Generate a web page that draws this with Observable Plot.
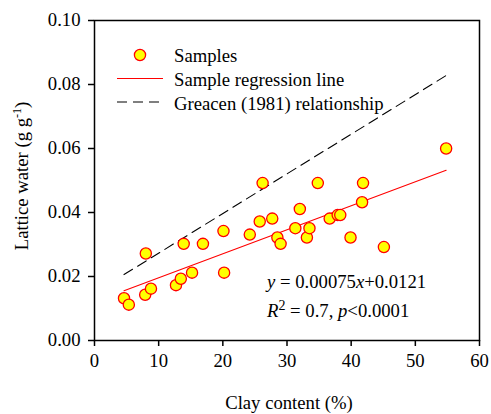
<!DOCTYPE html>
<html>
<head>
<meta charset="utf-8">
<script src="https://cdn.jsdelivr.net/npm/d3@7"></script>
<script src="https://cdn.jsdelivr.net/npm/@observablehq/plot@0.6"></script>
<style>
  html, body { margin: 0; padding: 0; background: #fff; }
  #chart { position: relative; width: 491px; height: 414px; }
</style>
</head>
<body>
<div id="chart"></div>
<script>
// Samples: clay content (%) and lattice water (g g-1)
const clay = [4.6, 5.35, 7.9, 8.0, 8.8, 12.7, 13.45, 13.9, 15.2, 16.9, 20.1, 20.2, 24.2, 25.75, 26.2, 27.7, 28.5, 29.0, 31.3, 32.0, 33.1, 33.5, 34.8, 36.65, 37.9, 38.3, 39.9, 41.7, 41.85, 45.1, 54.8];
const water = [0.0132, 0.0112, 0.0143, 0.0272, 0.0162, 0.0173, 0.0193, 0.0302, 0.0212, 0.0302, 0.0342, 0.0212, 0.0331, 0.0372, 0.0492, 0.0381, 0.0322, 0.0302, 0.0351, 0.0411, 0.0322, 0.0351, 0.0492, 0.0381, 0.0392, 0.0392, 0.0322, 0.0432, 0.0492, 0.0292, 0.0600];
// Regression line y = 0.00075x + 0.0121 over sample range
const regX = [4.6, 54.8];
const regY = [0.00075 * 4.6 + 0.0121, 0.00075 * 54.8 + 0.0121];
// Greacen (1981) relationship endpoints
const greX = [4.6, 54.8];
const greY = [0.0206, 0.0828];
const xTicks = [0, 10, 20, 30, 40, 50, 60];
const yTicks = [0, 0.02, 0.04, 0.06, 0.08, 0.10];
const legendLabels = ["Samples", "Sample regression line", "Greacen (1981) relationship"];

const samples = clay.map((c, i) => ({x: c, y: water[i]}));
const reg = regX.map((x, i) => ({x, y: regY[i]}));
const gre = greX.map((x, i) => ({x, y: greY[i]}));

const FONT = "Liberation Serif";
const FS = 18.7;

const chart = Plot.plot({
  width: 491,
  height: 414,
  marginLeft: 94,
  marginRight: 12,
  marginTop: 20,
  marginBottom: 74,
  style: "font-family: Liberation Serif, serif; font-size: 18.7px; color: #000; background: #fff;",
  x: {domain: [0, 60]},
  y: {domain: [0, 0.1]},
  marks: [
    Plot.frame({stroke: "#000", strokeWidth: 1.5}),
    Plot.axisX({ticks: xTicks, tickSize: 6, tickPadding: 7, tickFormat: d => String(d), label: null, strokeWidth: 1.5, fontSize: FS}),
    Plot.axisY({ticks: yTicks, tickSize: 6, tickPadding: 8, tickFormat: d => d.toFixed(2), label: null, strokeWidth: 1.5, fontSize: FS}),
    Plot.line(gre, {x: "x", y: "y", stroke: "#000", strokeWidth: 1.1, strokeDasharray: "10,6"}),
    Plot.line(reg, {x: "x", y: "y", stroke: "#ff0000", strokeWidth: 1.1}),
    Plot.dot(samples, {x: "x", y: "y", r: 5.6, fill: "#ffff00", stroke: "#ff0000", strokeWidth: 1.3})
  ]
});
document.getElementById("chart").appendChild(chart);

const svg = d3.select(chart);
svg.attr("font-family", FONT);
const g = svg.append("g").attr("font-size", FS).attr("fill", "#000").attr("text-anchor", "start").attr("font-family", FONT);

// Legend
g.append("circle").attr("cx", 140).attr("cy", 55).attr("r", 5.6).attr("fill", "#ffff00").attr("stroke", "#ff0000").attr("stroke-width", 1.3);
g.append("line").attr("x1", 117).attr("x2", 163).attr("y1", 78.5).attr("y2", 78.5).attr("stroke", "#ff0000").attr("stroke-width", 1.1);
g.append("line").attr("x1", 117).attr("x2", 163).attr("y1", 102).attr("y2", 102).attr("stroke", "#000").attr("stroke-width", 1.1).attr("stroke-dasharray", "10,6");
legendLabels.forEach((t, i) => {
  g.append("text").attr("x", 174).attr("y", 55 + i * 24).attr("dy", "0.35em").text(t);
});

// Equation
const eq = g.append("text").attr("x", 267).attr("y", 288);
eq.append("tspan").attr("font-style", "italic").text("y");
eq.append("tspan").text(" = 0.00075");
eq.append("tspan").attr("font-style", "italic").text("x");
eq.append("tspan").text("+0.0121");
const r2 = g.append("text").attr("x", 267).attr("y", 317);
r2.append("tspan").attr("font-style", "italic").text("R");
r2.append("tspan").attr("font-size", 14).attr("dy", -7).text("2");
r2.append("tspan").attr("dy", 7).text(" = 0.7, ");
r2.append("tspan").attr("font-style", "italic").text("p");
r2.append("tspan").text("<0.0001");

// Axis titles
g.append("text").attr("x", 289).attr("y", 409).attr("text-anchor", "middle").text("Clay content (%)");
const yl = g.append("text").attr("transform", "translate(28,176) rotate(-90)").attr("text-anchor", "middle");
yl.append("tspan").text("Lattice water (g g");
yl.append("tspan").attr("font-size", 12).attr("dy", -7).text("-1");
yl.append("tspan").attr("dy", 7).text(")");

svg.selectAll("text").attr("font-family", FONT).style("font-family", FONT);
</script>
</body>
</html>
